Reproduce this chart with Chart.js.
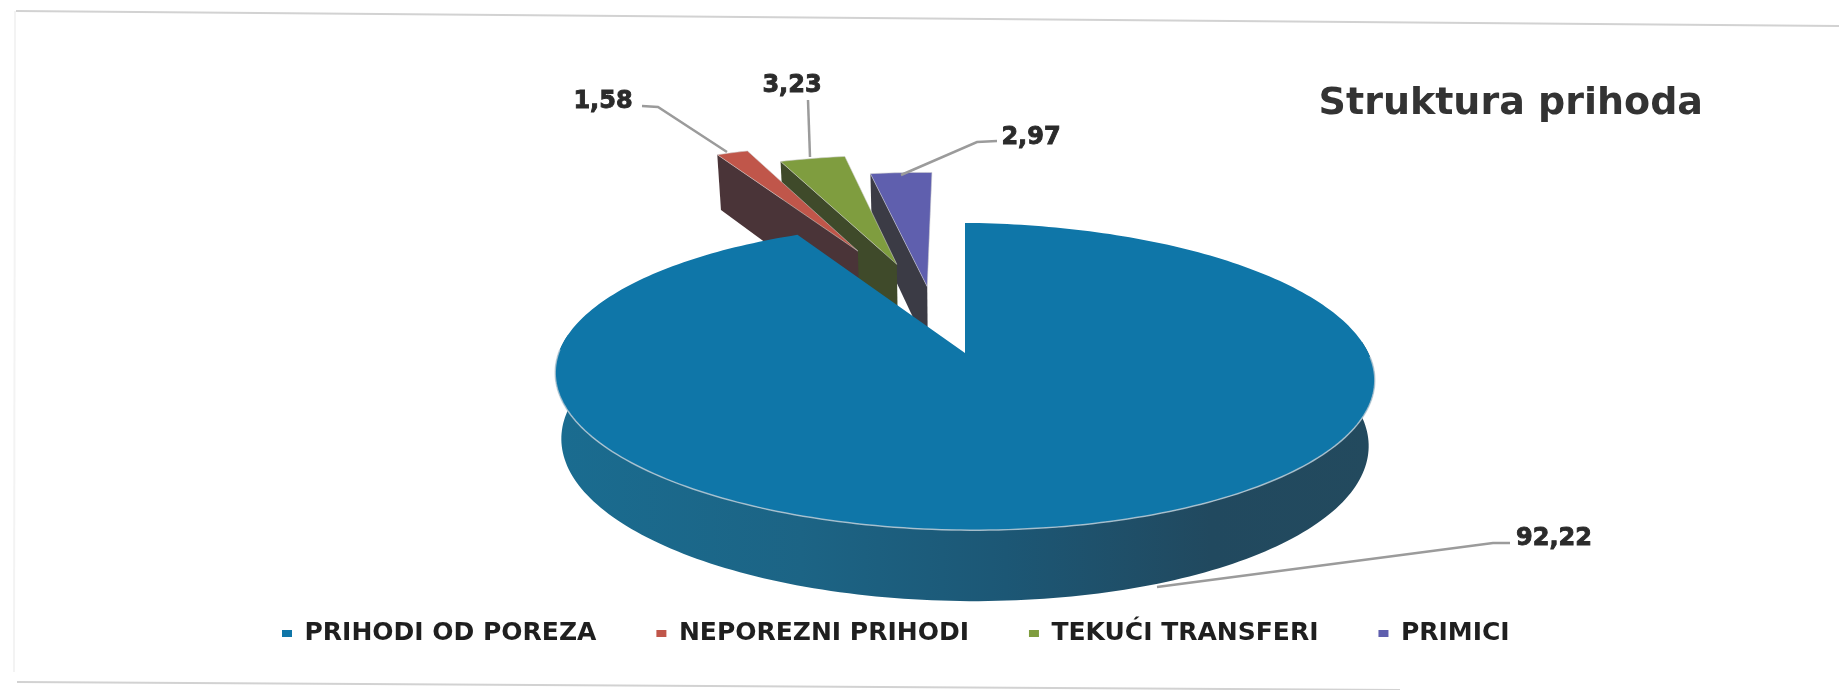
<!DOCTYPE html>
<html>
<head>
<meta charset="utf-8">
<title>Struktura prihoda</title>
<script src="https://cdn.jsdelivr.net/npm/chart.js@4"></script>
<style>
  html, body { margin: 0; padding: 0; background: #fff; overflow: hidden; }
  #wrap { width: 1839px; height: 690px; }
</style>
</head>
<body>
<div id="wrap"><canvas id="myChart"></canvas></div>
<script>
const categories = ['PRIHODI OD POREZA', 'NEPOREZNI PRIHODI', 'TEKUĆI TRANSFERI', 'PRIMICI'];
const shares = [92.22, 1.58, 3.23, 2.97];
const topColors = ['#0f76a8', '#c0564a', '#7f9d3f', '#5f5fae'];
const wallColors = ['#1c5775', '#4a3438', '#3f4a2a', '#3b3b45'];

// pie tilt, same look as the excel 3d pie. scan is a bit crooked too
const view = { cx: 965, cy: 353, rx: 405, ry: 150, persp: 0.153, scanTilt: 0.009 };
// how far each slice is pulled out of the pie, in pie radii
const pullX = [0, -0.295, -0.185, -0.1];
const pullY = [0, -0.751, -0.645, -0.472];

// unit disc to screen
function project(u, v, lowered) {
  const w = 1 - view.persp * v;
  const dx = view.rx * u / w * (lowered ? 0.985 : 1);
  return {
    x: view.cx + dx,
    y: view.cy + view.ry * v / w + (lowered ? 65 + 6 * v : 0) + dx * view.scanTilt
  };
}

function slicePoint(i, angle, radius, lowered) {
  return project(pullX[i] + radius * Math.cos(angle),
                 pullY[i] + radius * Math.sin(angle), lowered);
}

function drawSlice(ctx, el, i) {
  const apexTop = slicePoint(i, 0, 0, false);
  const apexLow = slicePoint(i, 0, 0, true);
  const start = slicePoint(i, el.startAngle, 1, false);
  const startLow = slicePoint(i, el.startAngle, 1, true);

  if (i > 0) {
    // left cut face
    ctx.beginPath();
    ctx.moveTo(start.x, start.y);
    ctx.lineTo(apexTop.x, apexTop.y);
    ctx.lineTo(apexLow.x, apexLow.y);
    ctx.lineTo(startLow.x, startLow.y);
    ctx.closePath();
    ctx.fillStyle = wallColors[i];
    ctx.fill();
  } else {
    // outer wall, only the front half shows
    const left = view.cx - view.rx * 1.012;
    const right = view.cx + view.rx * 1.012;
    const grad = ctx.createLinearGradient(left, 0, right, 0);
    grad.addColorStop(0, '#1a6c90');
    grad.addColorStop(0.3, '#1c6485');
    grad.addColorStop(0.55, '#1c5775');
    grad.addColorStop(0.8, '#21495f');
    grad.addColorStop(1, '#234a5e');
    ctx.beginPath();
    for (let a = -0.1; a <= Math.PI + 0.11; a += 0.02) {
      const p = project(Math.cos(a), Math.sin(a), false);
      ctx.lineTo(p.x, p.y);
    }
    for (let a = Math.PI + 0.1; a >= -0.11; a -= 0.02) {
      const p = project(Math.cos(a), Math.sin(a), true);
      ctx.lineTo(p.x, p.y);
    }
    ctx.closePath();
    ctx.fillStyle = grad;
    ctx.fill();
  }

  // top face, angles come from the pie controller
  const steps = Math.ceil((el.endAngle - el.startAngle) / 0.02);
  ctx.beginPath();
  ctx.moveTo(apexTop.x, apexTop.y);
  for (let s = 0; s <= steps; s++) {
    const a = el.startAngle + (el.endAngle - el.startAngle) * s / steps;
    const p = slicePoint(i, a, 1, false);
    ctx.lineTo(p.x, p.y);
  }
  ctx.closePath();
  ctx.fillStyle = topColors[i];
  ctx.fill();
  if (i > 0) {
    ctx.strokeStyle = 'rgba(205,205,205,0.55)';
    ctx.lineWidth = 1;
    ctx.stroke();
  } else {
    // pale rim along the front
    ctx.beginPath();
    for (let a = 0; a <= Math.PI + 0.01; a += 0.02) {
      const p = project(Math.cos(a), Math.sin(a), false);
      ctx.lineTo(p.x, p.y);
    }
    ctx.strokeStyle = 'rgba(190,205,215,0.8)';
    ctx.lineWidth = 1.5;
    ctx.stroke();
  }
}

const tilted = {
  id: 'tilted',
  beforeDatasetDraw(chart, args) {
    const ctx = chart.ctx;
    const arcs = chart.getDatasetMeta(args.index).data;
    ctx.save();
    [3, 2, 1, 0].forEach(i => drawSlice(ctx, arcs[i], i));
    ctx.restore();
    return false;
  }
};

// value label centre, then leader line corner points
const leaders = [
  { at: [1554, 539], line: [[1510, 543], [1493, 543], [1157, 587]] },
  { at: [603, 102], line: [[642, 106], [658, 107], [727, 152]] },
  { at: [792, 86], line: [[808, 100], [810, 157]] },
  { at: [1031, 138], line: [[997, 141], [977, 142], [901, 175]] }
];

const valueLabels = {
  id: 'valueLabels',
  afterDatasetsDraw(chart) {
    const ctx = chart.ctx;
    ctx.save();
    ctx.strokeStyle = '#9b9b9b';
    ctx.lineWidth = 2.5;
    leaders.forEach(l => {
      ctx.beginPath();
      l.line.forEach((p, k) => k ? ctx.lineTo(p[0], p[1]) : ctx.moveTo(p[0], p[1]));
      ctx.stroke();
    });
    ctx.font = 'bold 24px "DejaVu Sans"';
    ctx.fillStyle = '#2b2b2b';
    ctx.strokeStyle = '#2b2b2b';
    ctx.lineWidth = 0.9;
    ctx.textAlign = 'center';
    ctx.textBaseline = 'middle';
    shares.forEach((s, i) => {
      const text = s.toFixed(2).replace('.', ',');
      ctx.fillText(text, leaders[i].at[0], leaders[i].at[1]);
      ctx.strokeText(text, leaders[i].at[0], leaders[i].at[1]);
    });
    ctx.restore();
  }
};

// scan edges of the page
const pageEdges = {
  id: 'pageEdges',
  beforeDraw(chart) {
    const ctx = chart.ctx;
    ctx.save();
    ctx.lineWidth = 2;
    ctx.strokeStyle = '#f3f3f3';
    ctx.beginPath();
    ctx.moveTo(15, 11); ctx.lineTo(14, 672);
    ctx.stroke();
    ctx.strokeStyle = '#d2d2d2';
    ctx.beginPath();
    ctx.moveTo(16, 11); ctx.lineTo(1839, 26);
    ctx.moveTo(17, 682); ctx.lineTo(1400, 690);
    ctx.stroke();
    ctx.restore();
  }
};

new Chart(document.getElementById('myChart').getContext('2d'), {
  type: 'pie',
  data: {
    labels: categories,
    datasets: [{ data: shares, backgroundColor: topColors, borderWidth: 0 }]
  },
  plugins: [pageEdges, tilted, valueLabels],
  options: {
    responsive: true,
    maintainAspectRatio: false,
    animation: false,
    layout: { padding: { left: 222, right: 136, top: 81, bottom: 34 } },
    plugins: {
      tooltip: { enabled: false },
      title: {
        display: true,
        text: 'Struktura prihoda',
        align: 'end',
        color: '#333333',
        font: { family: '"DejaVu Sans"', size: 38, weight: 'bold' },
        padding: 0
      },
      legend: {
        display: true,
        position: 'bottom',
        align: 'start',
        labels: {
          color: '#1f1f1f',
          boxWidth: 10,
          boxHeight: 7,
          padding: 60,
          font: { family: '"DejaVu Sans"', size: 25, weight: 'bold' }
        }
      }
    }
  }
});
</script>
</body>
</html>
